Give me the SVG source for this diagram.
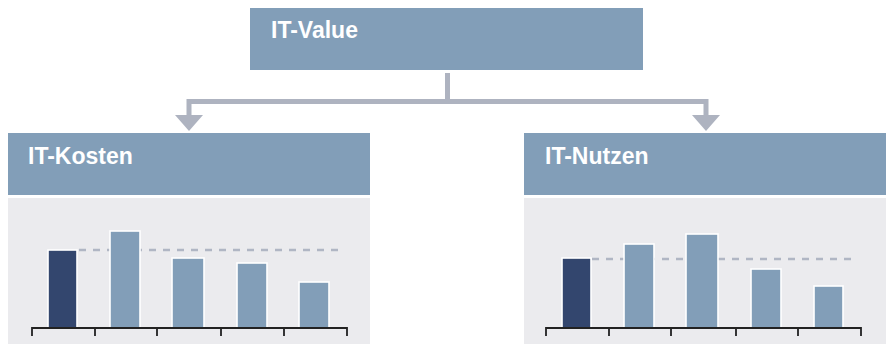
<svg xmlns="http://www.w3.org/2000/svg" width="886" height="344" viewBox="0 0 886 344">
<style>
.hdr{fill:#829eb8}
.body{fill:#ebebee}
.t{font-family:"Liberation Sans",Arial,sans-serif;font-weight:bold;font-size:23px;fill:#ffffff}
.dark{fill:#33466e;stroke:#ffffff;stroke-width:1.6}
.bar{fill:#829eb8;stroke:#ffffff;stroke-width:1.6}
.avg{stroke:#b0b6c4;stroke-width:2.5;stroke-dasharray:7,7;fill:none}
.axis{stroke:#222222;stroke-width:1.8;fill:none}
.conn{stroke:#aeb3c0;stroke-width:5;fill:none}
.head{fill:#aeb3c0}
</style>
<g id="it-value">
<rect class="hdr" x="250" y="8" width="393" height="62"/>
<text class="t" x="271" y="38">IT-Value</text>
</g>
<g id="connectors">
<path class="conn" d="M447.5,73 V101.5 M189,101.5 H706 M189,99 V116 M706,99 V116"/>
<polygon class="head" points="175,115 203,115 189,131"/>
<polygon class="head" points="692,115 720,115 706,131"/>
</g>
<g id="it-kosten">
<rect class="hdr" x="8" y="133" width="362" height="62"/>
<text class="t" x="28" y="164">IT-Kosten</text>
<rect class="body" x="8" y="198" width="362" height="146"/>
<line class="avg" x1="79" y1="250" x2="342" y2="250"/>
<rect class="dark" x="48" y="250" width="29" height="78"/>
<rect class="bar" x="110" y="231" width="30" height="97"/>
<rect class="bar" x="172" y="258" width="32" height="70"/>
<rect class="bar" x="237" y="263" width="30" height="65"/>
<rect class="bar" x="299" y="282" width="30" height="46"/>
<path class="axis" d="M32,336 V328 H347 V336 M95,328 V336 M157,328 V336 M221,328 V336 M284,328 V336"/>
</g>
<g id="it-nutzen">
<rect class="hdr" x="524" y="133" width="362" height="62"/>
<text class="t" x="545" y="164">IT-Nutzen</text>
<rect class="body" x="524" y="198" width="362" height="146"/>
<line class="avg" x1="592" y1="259" x2="856" y2="259"/>
<rect class="dark" x="562" y="258" width="29" height="70"/>
<rect class="bar" x="624" y="244" width="30" height="84"/>
<rect class="bar" x="686" y="234" width="32" height="94"/>
<rect class="bar" x="751" y="269" width="30" height="59"/>
<rect class="bar" x="814" y="286" width="29" height="42"/>
<path class="axis" d="M546,336 V328 H861 V336 M609,328 V336 M671,328 V336 M736,328 V336 M798,328 V336"/>
</g>
</svg>
